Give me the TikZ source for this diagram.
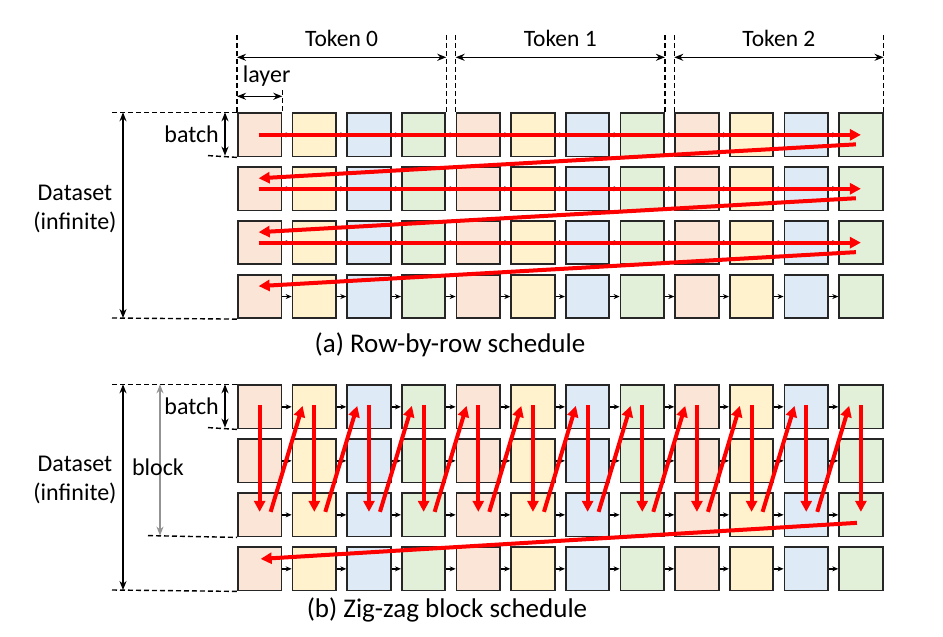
\documentclass[tikz,border=0pt]{standalone}
\usepackage{fontspec}
\setmainfont{Carlito}
\usetikzlibrary{arrows.meta,calc}
\definecolor{cA}{HTML}{FBE5D6}
\definecolor{cB}{HTML}{FFF2CC}
\definecolor{cC}{HTML}{DEEBF7}
\definecolor{cD}{HTML}{E2F0D9}
\definecolor{edge}{HTML}{262626}
\begin{document}
\begin{tikzpicture}[x=1pt,y=-1pt,
  cell/.style={draw=edge,line width=1.8pt,minimum width=43.5pt,minimum height=43.3pt,inner sep=0pt,anchor=north west},
  smallarr/.style={-{Stealth[length=6pt,width=5pt]},line width=1.4pt,black},
  redarr/.style={-{Triangle[length=11pt,width=11pt]},line width=4pt,red,shorten >=-1pt},
  dimarr/.style={{Stealth[length=9pt,width=7pt]}-{Stealth[length=9pt,width=7pt]},line width=1.6pt,black},
  greyarr/.style={{Stealth[length=9pt,width=7pt]}-{Stealth[length=9pt,width=7pt]},line width=1.6pt,gray!85},
  dashline/.style={dash pattern=on 5pt off 3pt,line width=1.4pt,black},
  lbl/.style={font=\fontsize{24}{29}\selectfont,inner sep=0pt,align=center},
  toklbl/.style={font=\fontsize{23.5}{28}\selectfont,inner sep=0pt},
  caplbl/.style={font=\fontsize{27}{32}\selectfont,inner sep=0pt}
]
\useasboundingbox (0,0) rectangle (943,637);
% cells
\foreach \i in {0,...,11}{
  \pgfmathtruncatemacro{\m}{mod(\i,4)}
  \ifcase\m \def\cc{cA}\or \def\cc{cB}\or \def\cc{cC}\or \def\cc{cD}\fi
  \foreach \j in {0,...,3}{
    \node[cell,fill=\cc] (a-\j-\i) at ({237+54.66*\i},{112.3+53.9*\j}) {};
    \node[cell,fill=\cc] (b-\j-\i) at ({237+54.66*\i},{384.3+54*\j}) {};
  }
}
% small arrows
\foreach \i [evaluate=\i as \k using int(\i+1)] in {0,...,10}{
  \foreach \j in {0,...,3}{
    \draw[smallarr] (a-\j-\i.east) -- (a-\j-\k.west);
    \draw[smallarr] (b-\j-\i.east) -- (b-\j-\k.west);
  }
}
% red arrows (a)
\foreach \j [evaluate=\j as \n using int(\j+1)] in {0,1,2}{
  \draw[redarr] ($(a-\j-0.center)+(-1,0)$) -- ($(a-\j-11.center)+(-1,0)$);
  \draw[redarr] ($(a-\j-11.center)+(-5,9.5)$) -- ($(a-\n-0.center)+(0,-10.5)$);
}
% red arrows (b)
\foreach \i in {0,...,11}{
  \draw[redarr] ($(b-0-\i.center)+(0,-2)$) -- ($(b-2-\i.center)+(0,-4)$);
}
\foreach \i [evaluate=\i as \k using int(\i+1)] in {0,...,10}{
  \draw[redarr] ($(b-2-\i.center)+(11,-3)$) -- ($(b-0-\k.center)+(-12,0)$);
}
\draw[redarr] ($(b-2-11.center)+(-4,8)$) -- ($(b-3-0.center)+(2,-10)$);

% top dimension lines
\coordinate (d0) at ($(a-0-0.north west)+(0,-77)$);
\coordinate (d1) at ($(a-0-3.north east)+(0,-77)$);
\coordinate (d2) at ($(a-0-4.north west)+(0,-77)$);
\coordinate (d3) at ($(a-0-7.north east)+(0,-77)$);
\coordinate (d4) at ($(a-0-8.north west)+(0,-77)$);
\coordinate (d5) at ($(a-0-11.north east)+(0,-77)$);
\coordinate (dl) at ($(a-0-0.north east)+(0,-22)$);
\draw[dashline] (d0) -- (a-0-0.north west);
\draw[dashline] (d1) -- (a-0-3.north east);
\draw[dashline] (d2) -- (a-0-4.north west);
\draw[dashline] (d3) -- (a-0-7.north east);
\draw[dashline] (d4) -- (a-0-8.north west);
\draw[dashline] (d5) -- (a-0-11.north east);
\draw[dashline] (dl) -- (a-0-0.north east);
\draw[dimarr] ($(d0)+(0,22)$) -- node[toklbl,above=10pt] (tok0) {Token 0} ($(d1)+(0,22)$);
\draw[dimarr] ($(d2)+(0,22)$) -- node[toklbl,above=10pt] (tok1) {Token 1} ($(d3)+(0,22)$);
\draw[dimarr] ($(d4)+(0,22)$) -- node[toklbl,above=10pt] (tok2) {Token 2} ($(d5)+(0,22)$);
\draw[dimarr] ($(d0)+(0,61)$) -- node[lbl,above=9pt,xshift=7pt] (lay) {layer} ($(dl)+(0,6)$);

% left dims (a)
\coordinate (la0) at (112,112.3);
\coordinate (la1) at (112,318);
\coordinate (lb0) at (208,155.6);
\draw[dashline] (la0) -- (a-0-0.north west);
\draw[dashline] (la1) -- (a-3-0.south west);
\draw[dashline] (lb0) -- (a-0-0.south west);
\draw[dimarr] (123,112.3) -- (123,318);
\draw[dimarr] (225,112.3) -- (225,155.6);
\node[lbl,anchor=east] (bat-a) at (219,134) {batch};
\node[lbl] (ds-a) at (75,209) {Dataset\\(infinite)};
\node[caplbl] (cap-a) at (450,345) {(a) Row-by-row schedule};

% left dims (b)
\coordinate (lc0) at (112,384.3);
\coordinate (lc1) at (112,590);
\coordinate (lc2) at (208,427.6);
\coordinate (lc3) at (148,535.6);
\draw[dashline] (lc0) -- (b-0-0.north west);
\draw[dashline] (lc1) -- (b-3-0.south west);
\draw[dashline] (lc2) -- (b-0-0.south west);
\draw[dashline] (lc3) -- (b-2-0.south west);
\draw[dimarr] (123,384.3) -- (123,590);
\draw[greyarr] (160,384.3) -- (160,535.6);
\draw[dimarr] (225,384.3) -- (225,427.6);
\node[lbl,anchor=east] (bat-b) at (219,406) {batch};
\node[lbl] (blk) at (158,467) {block};
\node[lbl] (ds-b) at (75,480) {Dataset\\(infinite)};
\node[caplbl] (cap-b) at (447,610) {(b) Zig-zag block schedule};
\end{tikzpicture}
\end{document}
